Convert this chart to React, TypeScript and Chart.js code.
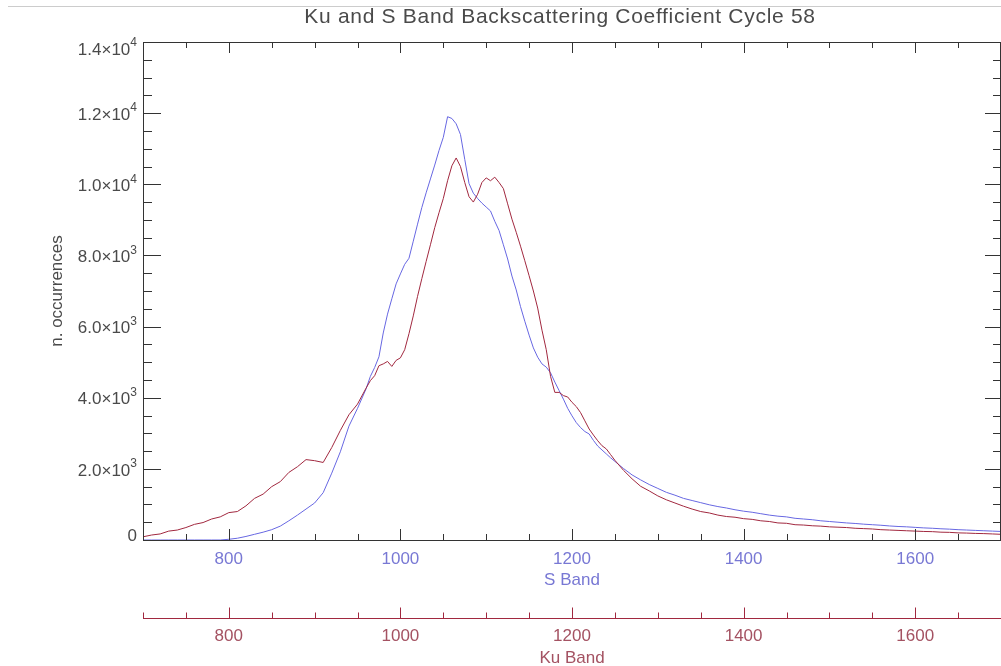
import React, { useEffect, useRef } from "react";
import { Chart, registerables } from "chart.js";

Chart.register(...registerables);

const chartTitle = "Ku and S Band Backscattering Coefficient Cycle 58";
const yAxisTitle = "n. occurrences";
const sBandTitle = "S Band";
const kuBandTitle = "Ku Band";

const bandBins = [
  700, 710, 720, 730, 740, 750, 760, 770, 780, 790,
  800, 810, 820, 830, 840, 850, 860, 870, 880, 890,
  900, 910, 920, 930, 940, 950,
  960, 965, 970, 975, 980, 985, 990, 995,
  1000, 1005, 1010, 1015, 1020, 1025, 1030, 1035, 1040, 1045,
  1050, 1055, 1060, 1065, 1070, 1075, 1080, 1085, 1090, 1095,
  1100, 1105, 1110, 1115, 1120, 1125, 1130, 1135, 1140, 1145,
  1150, 1155, 1160, 1165, 1170, 1175, 1180, 1185, 1190, 1195,
  1200, 1205, 1210, 1215, 1220, 1225, 1230, 1235, 1240, 1245,
  1250, 1260, 1270, 1280, 1290,
  1300, 1310, 1320, 1330, 1340, 1350, 1360, 1370, 1380, 1390,
  1400, 1410, 1420, 1430, 1440, 1450, 1460, 1470, 1480, 1490,
  1500, 1510, 1520, 1530, 1540, 1550, 1560, 1570, 1580, 1590,
  1600, 1610, 1620, 1630, 1640, 1650, 1660, 1670, 1680, 1690,
  1700,
];

const kuCounts = [
  90, 140, 170, 250, 280, 350, 440, 490, 590, 650,
  770, 800, 960, 1170, 1290, 1500, 1640, 1900, 2060, 2260,
  2230, 2180, 2600, 3080, 3520, 3820,
  4270, 4480, 4620, 4900, 4950, 5020, 4880, 5050,
  5120, 5350, 5800, 6300, 6850, 7350, 7830, 8300, 8780, 9200,
  9600, 10100, 10520, 10740, 10500, 10050, 9650, 9500, 9720, 10050,
  10180, 10100, 10200, 10050, 9880, 9450, 9020, 8650, 8260, 7850,
  7430, 7000, 6520, 5900, 5350, 4600, 4150, 4150, 4060, 4020,
  3870, 3750, 3580, 3350, 3120, 2950, 2790, 2650, 2560, 2400,
  2240, 1960, 1720, 1510, 1380,
  1240, 1130, 1040, 950, 870, 800, 760, 700, 660, 640,
  600, 580, 540, 520, 480, 470, 430, 420, 400, 390,
  370, 360, 350, 330, 320, 310, 290, 280, 270, 260,
  250, 240, 235, 220, 215, 200, 195, 185, 180, 170,
  160,
];

const sCounts = [
  0, 0, 0, 0, 0, 0, 0, 0, 0, 0,
  20, 50, 100, 160, 220, 290, 390, 540, 700, 870,
  1040, 1330, 1880, 2480, 3200, 3700,
  4250, 4600, 4850, 5150, 5820, 6350, 6780, 7200,
  7480, 7750, 7920, 8400, 8880, 9350, 9760, 10150, 10540, 10950,
  11320, 11900, 11850, 11700, 11400, 10700, 10020, 9750, 9600, 9470,
  9360, 9250, 8960, 8700, 8300, 7900, 7420, 7030, 6560, 6150,
  5760, 5400, 5140, 4950, 4860, 4700, 4440, 4200, 3960, 3700,
  3490, 3300, 3160, 3050, 2980, 2800, 2640, 2530, 2420, 2310,
  2210, 2010, 1830, 1690, 1560,
  1450, 1340, 1260, 1170, 1110, 1050, 990, 940, 900, 850,
  810, 780, 740, 700, 670, 650, 610, 590, 570, 540,
  520, 500, 480, 465, 445, 430, 415, 395, 380, 370,
  355, 340, 330, 315, 305, 290, 280, 270, 260, 250,
  240,
];

const xMajorTicks = [800, 1000, 1200, 1400, 1600];
const xTickLabels = ["800", "1000", "1200", "1400", "1600"];
const xMinorTicks = [
  700, 750, 850, 900, 950, 1050, 1100, 1150, 1250, 1300, 1350, 1450, 1500,
  1550, 1650, 1700,
];
const yMajorTicks = [0, 2000, 4000, 6000, 8000, 10000, 12000, 14000];
const yTickMantissa = ["0", "2.0×10", "4.0×10", "6.0×10", "8.0×10", "1.0×10", "1.2×10", "1.4×10"];
const yTickExponent = ["", "3", "3", "3", "3", "4", "4", "4"];
const yMinorTicks = [
  500, 1000, 1500, 2500, 3000, 3500, 4500, 5000, 5500, 6500, 7000, 7500,
  8500, 9000, 9500, 10500, 11000, 11500, 12500, 13000, 13500,
];

const sColor = "#6767e2";
const sTextColor = "#7878d4";
const kuColor = "#a1283f";
const kuTextColor = "#a45262";
const axisColor = "#333333";
const textColor = "#4a4a4a";
const FONT = "'Liberation Sans', Arial, sans-serif";

const axesPlugin = {
  id: "idlAxes",
  afterDraw(chart: any) {
    const ctx = chart.ctx as CanvasRenderingContext2D;
    const area = chart.chartArea;
    const xs = chart.scales.x;
    const xk = chart.scales.x2;
    const ys = chart.scales.y;
    const L = area.left, R = area.right, T = area.top, B = area.bottom;
    ctx.save();

    // page rule
    ctx.strokeStyle = "#cccccc";
    ctx.lineWidth = 1;
    ctx.beginPath();
    ctx.moveTo(8, 6.5);
    ctx.lineTo(chart.width, 6.5);
    ctx.stroke();

    // box
    ctx.strokeStyle = axisColor;
    ctx.lineWidth = 1;
    ctx.beginPath();
    ctx.moveTo(L + 0.5, T + 0.5);
    ctx.lineTo(R - 0.5, T + 0.5);
    ctx.lineTo(R - 0.5, B + 0.5);
    ctx.lineTo(L + 0.5, B + 0.5);
    ctx.closePath();
    ctx.stroke();

    // x ticks (bottom + top)
    ctx.beginPath();
    for (const v of xMajorTicks) {
      const px = Math.round(xs.getPixelForValue(v)) + 0.5;
      ctx.moveTo(px, B);
      ctx.lineTo(px, B - 11);
      ctx.moveTo(px, T);
      ctx.lineTo(px, T + 11);
    }
    for (const v of xMinorTicks) {
      const px = Math.round(xs.getPixelForValue(v)) + 0.5;
      ctx.moveTo(px, B);
      ctx.lineTo(px, B - 6);
      ctx.moveTo(px, T);
      ctx.lineTo(px, T + 6);
    }
    // y ticks (left + right)
    for (const v of yMajorTicks) {
      const py = Math.round(ys.getPixelForValue(v)) + 0.5;
      ctx.moveTo(L, py);
      ctx.lineTo(L + 18, py);
      ctx.moveTo(R, py);
      ctx.lineTo(R - 16, py);
    }
    for (const v of yMinorTicks) {
      const py = Math.round(ys.getPixelForValue(v)) + 0.5;
      ctx.moveTo(L, py);
      ctx.lineTo(L + 9, py);
      ctx.moveTo(R, py);
      ctx.lineTo(R - 8, py);
    }
    ctx.stroke();

    // y labels
    ctx.fillStyle = textColor;
    ctx.textBaseline = "middle";
    yMajorTicks.forEach((v, i) => {
      let cy = ys.getPixelForValue(v) + 2;
      cy = Math.max(T + 8, Math.min(B - 4, cy));
      const rightEdge = L - 6;
      const exp = yTickExponent[i];
      ctx.font = `12px ${FONT}`;
      const ew = exp ? ctx.measureText(exp).width : 0;
      if (exp) {
        ctx.textAlign = "right";
        ctx.fillText(exp, rightEdge, cy - 7);
      }
      ctx.font = `17px ${FONT}`;
      ctx.textAlign = "right";
      ctx.fillText(yTickMantissa[i], rightEdge - ew, cy);
    });

    // y title
    ctx.save();
    ctx.translate(57, (T + B) / 2);
    ctx.rotate(-Math.PI / 2);
    ctx.font = `17px ${FONT}`;
    ctx.textAlign = "center";
    ctx.textBaseline = "middle";
    ctx.fillStyle = textColor;
    ctx.fillText(yAxisTitle, 0, 0);
    ctx.restore();

    // title
    ctx.save();
    ctx.font = `21px ${FONT}`;
    (ctx as any).letterSpacing = "0.7px";
    ctx.textAlign = "center";
    ctx.textBaseline = "middle";
    ctx.fillStyle = textColor;
    ctx.fillText(chartTitle, 560, 17);
    ctx.restore();

    // S band labels
    ctx.font = `17px ${FONT}`;
    ctx.textAlign = "center";
    ctx.textBaseline = "middle";
    ctx.fillStyle = sTextColor;
    xMajorTicks.forEach((v, i) => {
      ctx.fillText(xTickLabels[i], xs.getPixelForValue(v), B + 19);
    });
    ctx.fillText(sBandTitle, (L + R) / 2, B + 40);

    // Ku band axis
    const ky = 618.5;
    ctx.strokeStyle = kuColor;
    ctx.lineWidth = 1;
    ctx.beginPath();
    ctx.moveTo(L, ky);
    ctx.lineTo(R, ky);
    for (const v of xMajorTicks) {
      const px = Math.round(xk.getPixelForValue(v)) + 0.5;
      ctx.moveTo(px, ky);
      ctx.lineTo(px, ky - 11);
    }
    for (const v of xMinorTicks) {
      const px = Math.round(xk.getPixelForValue(v)) + 0.5;
      ctx.moveTo(px, ky);
      ctx.lineTo(px, ky - 6);
    }
    ctx.stroke();
    ctx.fillStyle = kuTextColor;
    xMajorTicks.forEach((v, i) => {
      ctx.fillText(xTickLabels[i], xk.getPixelForValue(v), 636);
    });
    ctx.fillText(kuBandTitle, (L + R) / 2, 658);

    ctx.restore();
  },
};

export default function App() {
  const ref = useRef<HTMLCanvasElement | null>(null);
  useEffect(() => {
    if (!ref.current) return;
    const chart = new Chart(ref.current, {
      type: "line",
      data: {
        datasets: [
          {
            label: "Ku Band",
            data: bandBins.map((b, i) => ({ x: b, y: kuCounts[i] })),
            xAxisID: "x2",
            yAxisID: "y",
            borderColor: kuColor,
            borderWidth: 1,
            pointRadius: 0,
            tension: 0,
            fill: false,
          },
          {
            label: "S Band",
            data: bandBins.map((b, i) => ({ x: b, y: sCounts[i] })),
            xAxisID: "x",
            yAxisID: "y",
            borderColor: sColor,
            borderWidth: 1,
            pointRadius: 0,
            tension: 0,
            fill: false,
          },
        ],
      },
      options: {
        responsive: false,
        animation: false,
        events: [],
        layout: { padding: { top: 42, left: 0, right: 0, bottom: 0 } },
        plugins: {
          legend: { display: false },
          title: { display: false },
          tooltip: { enabled: false },
        },
        scales: {
          x: {
            type: "linear",
            position: "bottom",
            min: 700,
            max: 1700,
            grid: { display: false },
            border: { display: false },
            ticks: { display: false },
            afterFit: (s: any) => {
              s.height = 126;
            },
          },
          x2: {
            type: "linear",
            position: "bottom",
            min: 700,
            max: 1700,
            display: false,
          },
          y: {
            type: "linear",
            position: "left",
            min: 0,
            max: 14000,
            grid: { display: false },
            border: { display: false },
            ticks: { display: false },
            afterFit: (s: any) => {
              s.width = 143;
            },
          },
        },
      },
      plugins: [axesPlugin],
    });
    return () => chart.destroy();
  }, []);
  return (
    <div style={{ position: "absolute", left: 0, top: 0, width: 1001, height: 666, background: "#fff", overflow: "hidden" }}>
      <canvas ref={ref} width={1001} height={666} style={{ display: "block" }} />
    </div>
  );
}
